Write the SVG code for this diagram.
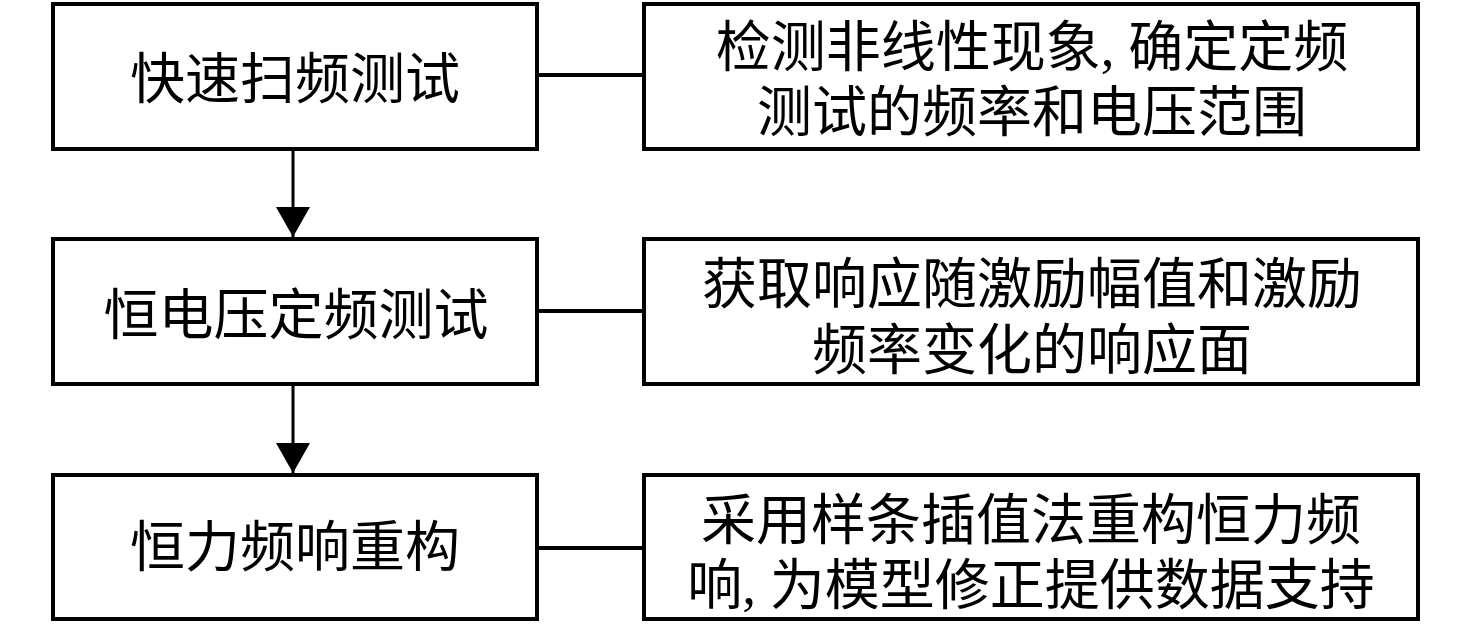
<svg xmlns="http://www.w3.org/2000/svg" width="1476" height="627" viewBox="0 0 1476 627">
<style>
.box{fill:#fff;stroke:#000;stroke-width:4}
.t{font-family:"Liberation Serif","Noto Sans CJK SC",serif;font-size:55px;fill:#000;text-anchor:middle}
.c{stroke:#000;stroke-width:4;fill:none}
.a{stroke:#000;stroke-width:3;fill:none}
</style>
<defs>
<marker id="arr" viewBox="0 0 30 34" refX="30" refY="17" markerWidth="30" markerHeight="34" markerUnits="userSpaceOnUse" orient="auto">
<path d="M0,0 L30,17 L0,34 z" fill="#000"/>
</marker>
</defs>
<rect width="1476" height="627" fill="#fff"/>
<g id="connectors">
<line class="c" x1="537" y1="75" x2="644" y2="75"/>
<line class="c" x1="537" y1="311" x2="644" y2="311"/>
<line class="c" x1="537" y1="548" x2="644" y2="548"/>
<path class="a" d="M293,150 L293,237" marker-end="url(#arr)"/>
<path class="a" d="M293,386 L293,473" marker-end="url(#arr)"/>
</g>
<g id="n1">
<rect class="box" x="53" y="4" width="484" height="145"/>
<text class="t" x="295" y="98">快速扫频测试</text>
</g>
<g id="n2">
<rect class="box" x="644" y="4" width="774" height="145"/>
<text class="t" x="1032" y="66">检测非线性现象, 确定定频</text>
<text class="t" x="1032" y="131">测试的频率和电压范围</text>
</g>
<g id="n3">
<rect class="box" x="53" y="239" width="484" height="145"/>
<text class="t" x="296" y="334">恒电压定频测试</text>
</g>
<g id="n4">
<rect class="box" x="644" y="239" width="774" height="145"/>
<text class="t" x="1032" y="303">获取响应随激励幅值和激励</text>
<text class="t" x="1032" y="369">频率变化的响应面</text>
</g>
<g id="n5">
<rect class="box" x="53" y="475" width="484" height="144"/>
<text class="t" x="295" y="566">恒力频响重构</text>
</g>
<g id="n6">
<rect class="box" x="644" y="475" width="774" height="144"/>
<text class="t" x="1031" y="539">采用样条插值法重构恒力频</text>
<text class="t" x="1031" y="604">响, 为模型修正提供数据支持</text>
</g>
</svg>
